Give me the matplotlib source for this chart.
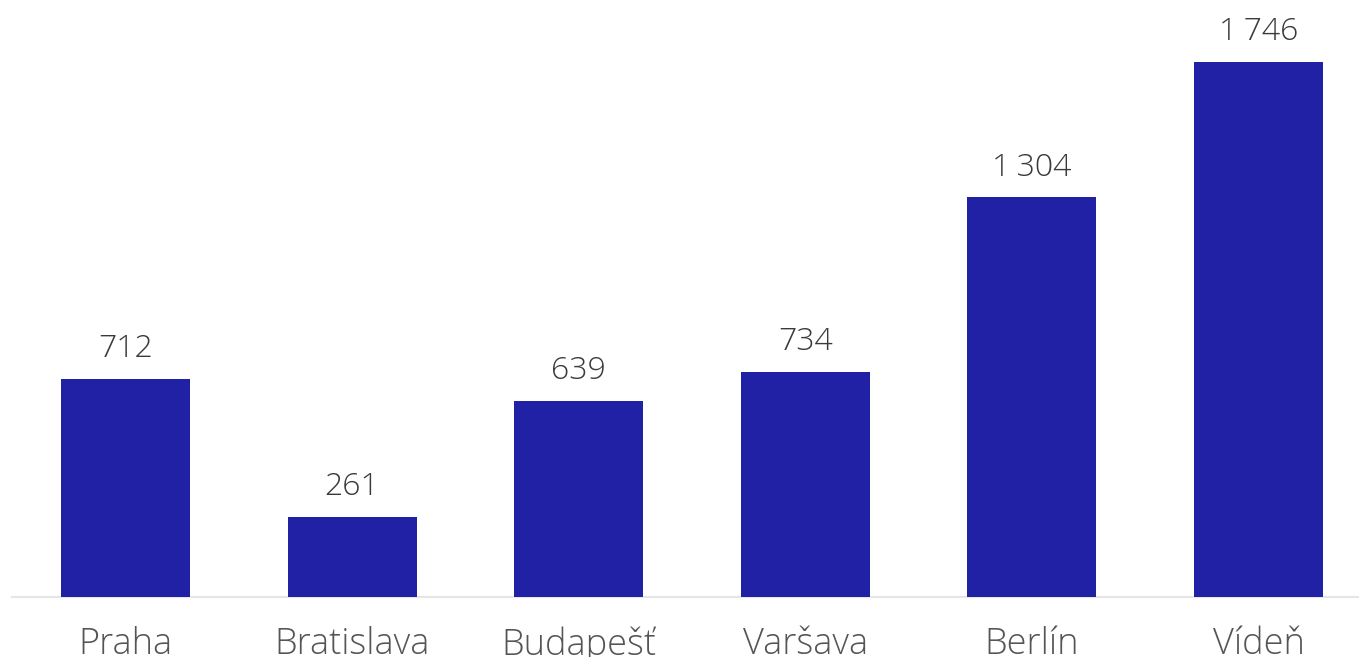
import matplotlib
matplotlib.use("Agg")
import matplotlib.pyplot as plt

categories = ["Praha", "Bratislava", "Budapešť", "Varšava", "Berlín", "Vídeň"]
values = [712, 261, 639, 734, 1304, 1746]

FAM = ["Open Sans", "DejaVu Sans"]
W, H = 1359, 657
fig = plt.figure(figsize=(W / 100, H / 100), dpi=100)
fig.patch.set_facecolor("white")

base_px = 60  # baseline from bottom
ax = fig.add_axes([0, base_px / H, 1, 1 - base_px / H])
ax.set_facecolor("white")

# pixel -> data mapping for x
c0, step = 125.5, 226.6
ax.set_xlim(-c0 / step, (W - c0) / step)
ax.set_ylim(0, 597 / 0.3064)

x = list(range(len(categories)))
ax.bar(x, values, width=0.57, color="#2121a6", zorder=2)
ax.axhline(0, xmin=12 / W, xmax=1, color="#e6e6e6", lw=1.5, zorder=1, clip_on=False)

def fmt(v):
    s = f"{v:,}".replace(",", "\u2009")
    return s

for xi, v in zip(x, values):
    ax.annotate(fmt(v), (xi, v), xytext=(0, 10), textcoords="offset points",
                ha="center", va="bottom", fontsize=23, color="#3a3a3a",
                family=FAM, fontweight="light")

for xi, c in zip(x, categories):
    ax.annotate(c, (xi, 0), xytext=(0, -21), textcoords="offset points",
                ha="center", va="top", fontsize=26, color="#555555",
                family=FAM, fontweight="light", annotation_clip=False)

for s in ax.spines.values():
    s.set_visible(False)
ax.set_xticks([])
ax.set_yticks([])

fig.savefig("out.png", dpi=100, facecolor="white")
